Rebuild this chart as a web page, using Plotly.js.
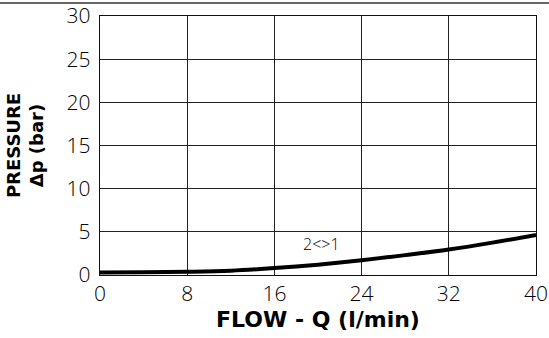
<!DOCTYPE html>
<html>
<head>
<meta charset="utf-8">
<script src="https://cdn.plot.ly/plotly-3.0.1.min.js"></script>
<style>html,body{margin:0;padding:0;background:#fff;}#chart{width:549px;height:338px;}</style>
</head>
<body>
<div id="chart"></div>
<script>
// Flow Q (l/min) and pressure drop Δp (bar), curve 2<>1
const flow = [0, 4, 8, 12, 16, 20, 24, 28, 32, 36, 40];
const pressure = [0.3, 0.33, 0.38, 0.5, 0.8, 1.2, 1.7, 2.3, 2.95, 3.75, 4.65];
const xTicks = [0, 8, 16, 24, 32, 40];
const yTicks = [0, 5, 10, 15, 20, 25, 30];
const curveLabel = "2<>1";
const xTitle = "FLOW - Q (l/min)";
const yTitle = "PRESSURE<br>Δp (bar)";

const tickFont = {family: "Open Sans, DejaVu Sans, sans-serif", size: 21, color: "#000", weight: 300};
const titleFont = {family: "DejaVu Sans, sans-serif", size: 22, color: "#000", weight: "bold"};

const trace = {
  x: flow, y: pressure, type: "scatter", mode: "lines",
  line: {color: "#000", width: 4, shape: "spline"},
  hoverinfo: "skip", showlegend: false
};

const layout = {
  width: 549, height: 338,
  margin: {l: 100, r: 13, t: 16, b: 63},
  paper_bgcolor: "#fff", plot_bgcolor: "#fff",
  xaxis: {
    range: [0, 40], tickvals: xTicks, ticktext: xTicks.map(String),
    showgrid: true, gridcolor: "#222", gridwidth: 1,
    showline: true, linecolor: "#111", linewidth: 1.2, mirror: true,
    zeroline: false, ticks: "", tickfont: tickFont, ticklabeloverflow: "allow",
    title: {text: xTitle, font: titleFont, standoff: 4}
  },
  yaxis: {
    range: [0, 30], tickvals: yTicks, ticktext: yTicks.map(String),
    showgrid: true, gridcolor: "#222", gridwidth: 1,
    showline: true, linecolor: "#111", linewidth: 1.2, mirror: true,
    zeroline: false, ticks: "", tickfont: tickFont, ticklabelstandoff: 4,
    ticklabeloverflow: "allow",
    title: {text: yTitle, font: {family: "DejaVu Sans, sans-serif", size: 18, color: "#000", weight: "bold"}, standoff: 18}
  },
  annotations: [{
    x: 20.3, y: 3.6, xref: "x", yref: "y", text: curveLabel, showarrow: false,
    font: {family: "Open Sans, DejaVu Sans, sans-serif", size: 16, color: "#000", weight: 300}
  }],
  shapes: [{
    type: "line", xref: "paper", yref: "paper",
    x0: -0.23, x1: 1.04, y0: 1.05, y1: 1.05,
    line: {color: "#333", width: 1.5}
  }]
};

Plotly.newPlot("chart", [trace], layout, {staticPlot: true, displayModeBar: false});
</script>
</body>
</html>
